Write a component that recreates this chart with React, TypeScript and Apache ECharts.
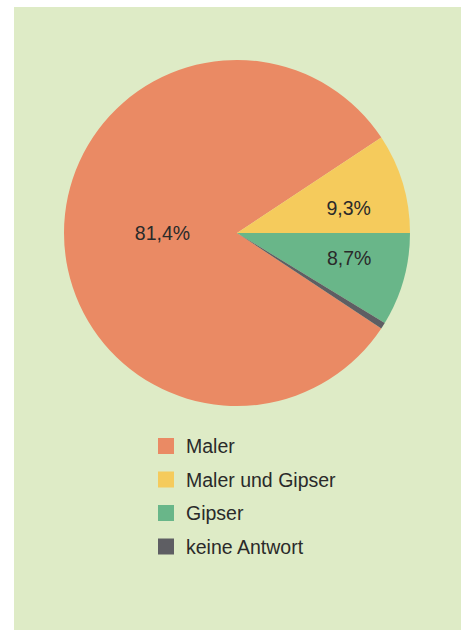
import React, { useEffect, useRef } from "react";
import * as echarts from "echarts";

// Survey answers: share of respondents per trade (percent)
const categories = ["Maler", "Maler und Gipser", "Gipser", "keine Antwort"];
const shares = [81.4, 9.3, 8.7, 0.6];
const shareLabels = ["81,4%", "9,3%", "8,7%", ""];
const colors = ["#EA8A64", "#F5CB5C", "#69B689", "#5E5E63"];

export default function App() {
  const ref = useRef<HTMLDivElement>(null);

  useEffect(() => {
    if (!ref.current) return;
    const chart = echarts.init(ref.current, null, { renderer: "svg" });
    const labelOffsets = [
      [15, 0],
      [26, 1],
      [26, 1],
      [0, 0],
    ];
    chart.setOption({
      animation: false,
      backgroundColor: "#ffffff",
      graphic: [
        {
          type: "rect",
          z: -10,
          shape: { x: 14, y: 7, width: 447, height: 623 },
          style: { fill: "#DEEBC6" },
        },
      ],
      legend: {
        orient: "vertical",
        left: 158,
        top: 436,
        padding: 0,
        itemWidth: 16,
        itemHeight: 16,
        itemGap: 13.5,
        icon: "rect",
        data: categories,
        textStyle: {
          fontFamily: "Liberation Sans",
          fontSize: 19.5,
          color: "#2a2a2a",
          padding: [0, 0, 0, 7],
        },
      },
      series: [
        {
          type: "pie",
          center: [237, 233],
          radius: 173,
          startAngle: 326.5,
          clockwise: true,
          avoidLabelOverlap: false,
          emphasis: { disabled: true },
          label: {
            show: true,
            position: "inside",
            fontFamily: "Liberation Sans",
            fontSize: 19.5,
            color: "#2a2a2a",
          },
          labelLine: { show: false },
          itemStyle: { borderWidth: 0 },
          data: categories.map((name, i) => ({
            name,
            value: shares[i],
            itemStyle: { color: colors[i] },
            label: {
              show: shareLabels[i] !== "",
              formatter: shareLabels[i],
              offset: labelOffsets[i],
            },
          })),
        },
      ],
    });
    return () => chart.dispose();
  }, []);

  return (
    <div
      ref={ref}
      style={{ position: "fixed", left: 0, top: 0, width: 463, height: 630 }}
    />
  );
}
